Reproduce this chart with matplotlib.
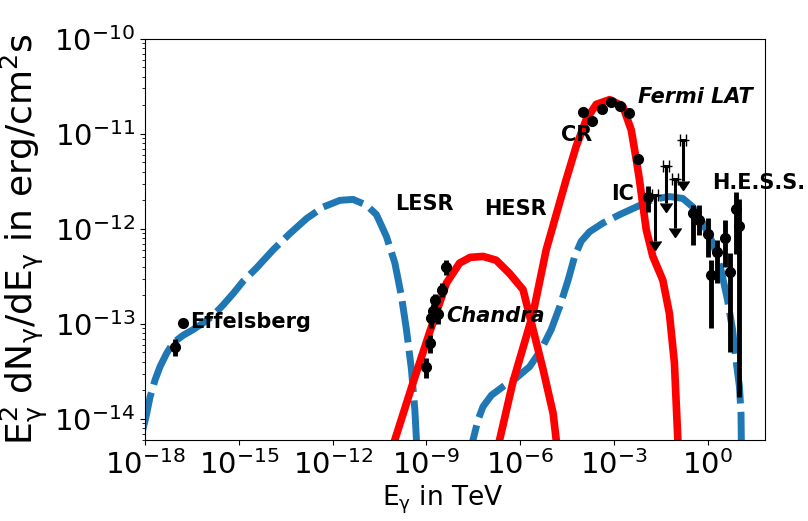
import numpy as np
import matplotlib
matplotlib.use("Agg")
import matplotlib.pyplot as plt

# model curves as log10(E/TeV), log10(flux)
sync_logE = [-18.1, -17.97, -17.84, -17.68, -17.52, -17.31, -17.10, -16.78, -16.46, -16.14,
             -15.82, -15.50, -15.18, -14.86, -14.43, -13.90, -13.37, -12.83, -12.30,
             -11.77, -11.35, -10.92, -10.60, -10.28, -10.01, -9.80, -9.64, -9.48, -9.37,
             -9.32, -9.25]
sync_logF = [-14.15, -13.98, -13.77, -13.59, -13.45, -13.31, -13.20, -13.12, -13.06, -12.99,
             -12.91, -12.80, -12.68, -12.55, -12.41, -12.22, -12.05, -11.89, -11.77,
             -11.70, -11.69, -11.75, -11.85, -12.08, -12.36, -12.71, -13.06, -13.48, -13.91,
             -14.22, -14.8]

ic_logE = [-7.6, -7.51, -7.35, -7.19, -6.92, -6.55, -6.13, -5.70, -5.33, -5.01, -4.74,
           -4.47, -4.26, -4.05, -3.78, -3.36, -2.82, -2.29, -1.76, -1.23, -0.80, -0.48,
           -0.16, 0.16, 0.42, 0.63, 0.79, 0.90, 1.01, 1.06, 1.07, 1.08]
ic_logF = [-14.5, -14.22, -14.01, -13.87, -13.75, -13.66, -13.57, -13.45, -13.27, -13.06,
           -12.82, -12.54, -12.29, -12.13, -12.03, -11.94, -11.85, -11.77, -11.69, -11.66,
           -11.68, -11.77, -11.94, -12.15, -12.43, -12.75, -13.06, -13.38, -13.66, -13.94,
           -14.22, -15.0]

lesr_logE = [-10.2, -10.01, -9.43, -8.89, -8.36, -7.94, -7.60, -7.19, -6.77, -6.34,
             -5.91, -5.59, -5.27, -4.95, -4.85, -4.7]
lesr_logF = [-14.45, -14.22, -13.62, -13.08, -12.57, -12.36, -12.30, -12.29, -12.33, -12.47,
             -12.64, -13.06, -13.48, -13.94, -14.22, -14.5]

cr_logE = [-6.8, -6.66, -6.24, -5.59, -5.17, -4.53, -4.21, -3.89, -3.57, -3.14, -2.72,
           -2.45, -2.27, -2.19, -1.97, -1.76, -1.44, -1.23, -1.07, -0.96, -0.93]
cr_logF = [-14.45, -14.22, -13.62, -12.89, -12.22, -11.48, -11.13, -10.85, -10.69, -10.64,
           -10.71, -10.96, -11.31, -11.48, -12.01, -12.29, -12.54, -12.89, -13.41,
           -14.22, -14.6]

# measurements
effelsberg_E = [9.1e-18, 1.66e-17]
effelsberg_F = [5.75e-14, 1.02e-13]
effelsberg_err = [1.2e-14, 0.6e-14]

chandra_E = [1.0e-9, 1.29e-9, 1.45e-9, 1.62e-9, 1.82e-9, 2.34e-9, 3.24e-9, 4.37e-9]
chandra_F = [3.55e-14, 6.3e-14, 1.15e-13, 1.35e-13, 1.78e-13, 1.26e-13, 2.3e-13, 4.0e-13]
chandra_err = [0.85e-14, 1.4e-14, 2.5e-14, 2.8e-14, 3e-14, 2.6e-14, 4e-14, 7e-14]

fermi_E = [1.0e-4, 2.0e-4, 4.0e-4, 7.8e-4, 1.5e-3, 3.0e-3, 6.0e-3, 1.2e-2]
fermi_F = [1.70e-11, 1.35e-11, 1.82e-11, 2.14e-11, 1.95e-11, 1.66e-11, 5.5e-12, 2.14e-12]
fermi_lo = [1.70e-11, 1.35e-11, 1.82e-11, 2.14e-11, 1.95e-11, 1.66e-11, 5.5e-12, 1.5e-12]
fermi_hi = [1.70e-11, 1.35e-11, 1.82e-11, 2.14e-11, 1.95e-11, 1.66e-11, 5.5e-12, 2.8e-12]

ul_E = [0.0209, 0.0447, 0.0891, 0.158]
ul_F = [2.29e-12, 4.57e-12, 3.31e-12, 8.7e-12]
ul_low = [7.4e-13, 1.86e-12, 1.02e-12, 3.16e-12]

hess_E = [0.347, 0.537, 1.0, 1.29, 1.95, 3.47, 5.01, 7.76, 10.2]
hess_F = [1.48e-12, 1.23e-12, 8.9e-13, 3.24e-13, 5.75e-13, 7.94e-13, 3.55e-13, 1.62e-12, 1.07e-12]
hess_lo = [6.8e-13, 8.7e-13, 5.1e-13, 9.1e-14, 2.7e-13, 4.0e-13, 5.1e-14, 5.4e-13, 1.7e-14]
hess_hi = [1.78e-12, 1.78e-12, 1.29e-12, 4.7e-13, 7.6e-13, 1.23e-12, 5.6e-13, 2.45e-12, 2.04e-12]

# text labels: (text, log10 E, log10 F, style)
labels = [("Effelsberg", -16.55, -12.98, "normal"),
          ("LESR", -10.01, -11.74, "normal"),
          ("HESR", -7.14, -11.79, "normal"),
          ("Chandra", -8.36, -12.92, "italic"),
          ("CR", -4.69, -11.01, "normal"),
          ("IC", -3.09, -11.63, "normal"),
          ("H.E.S.S.", 0.15, -11.52, "normal"),
          ("Fermi LAT", -2.25, -10.61, "italic")]

x_ticks = [1e-18, 1e-15, 1e-12, 1e-9, 1e-6, 1e-3, 1e0]
y_ticks = [1e-14, 1e-13, 1e-12, 1e-11, 1e-10]

plt.rcParams["font.family"] = "DejaVu Sans"
plt.rcParams["mathtext.fontset"] = "dejavusans"

fig = plt.figure(figsize=(8.08, 5.21), dpi=100)
ax = fig.add_axes([0.1795, 0.1555, 0.767, 0.770])

blue = "#1f77b4"
ax.plot(10.0 ** np.array(sync_logE), 10.0 ** np.array(sync_logF), color=blue, lw=5,
        dashes=(6, 1.2))
ax.plot(10.0 ** np.array(ic_logE), 10.0 ** np.array(ic_logF), color=blue, lw=5,
        dashes=(6, 1.2))
ax.plot(10.0 ** np.array(lesr_logE), 10.0 ** np.array(lesr_logF), "-", color="red", lw=5.5)
ax.plot(10.0 ** np.array(cr_logE), 10.0 ** np.array(cr_logF), "-", color="red", lw=5.5)

pt = dict(fmt="o", color="black", ms=7, elinewidth=3.5, capsize=0)
ax.errorbar(effelsberg_E, effelsberg_F, yerr=effelsberg_err, **pt)
ax.errorbar(chandra_E, chandra_F, yerr=chandra_err, **pt)
fF = np.array(fermi_F)
ax.errorbar(fermi_E, fF, yerr=[fF - np.array(fermi_lo), np.array(fermi_hi) - fF], **pt)
hF = np.array(hess_F)
ax.errorbar(hess_E, hF, yerr=[hF - np.array(hess_lo), np.array(hess_hi) - hF], **pt)

uE = np.array(ul_E)
uF = np.array(ul_F)
ax.errorbar(uE, uF, yerr=uF - np.array(ul_low),
            xerr=[uE * (1 - 10 ** -0.1), uE * (10 ** 0.1 - 1)],
            uplims=True, fmt="none", color="black", elinewidth=2.2, capsize=4.5)

for txt, lx, ly, st in labels:
    ax.text(10.0 ** lx, 10.0 ** ly, txt, fontsize=15, fontweight="bold", fontstyle=st,
            ha="left", va="center")

ax.set_xscale("log")
ax.set_yscale("log")
ax.set_xticks(x_ticks)
ax.set_yticks(y_ticks)
ax.set_xlim(1e-18, 10 ** 1.82)
ax.set_ylim(6e-15, 1e-10)
ax.tick_params(axis="both", which="major", labelsize=21)

ax.set_xlabel(r"E$_\mathrm{\gamma}$ in TeV", fontsize=19)
ax.set_ylabel(r"E$_\mathrm{\gamma}^2$ dN$_\mathrm{\gamma}$/dE$_\mathrm{\gamma}$ in erg/cm$^2$s",
              fontsize=26)
ax.xaxis.set_label_coords(0.48, -0.11)
ax.yaxis.set_label_coords(-0.153, 0.5)

fig.savefig("out.png", dpi=100)
